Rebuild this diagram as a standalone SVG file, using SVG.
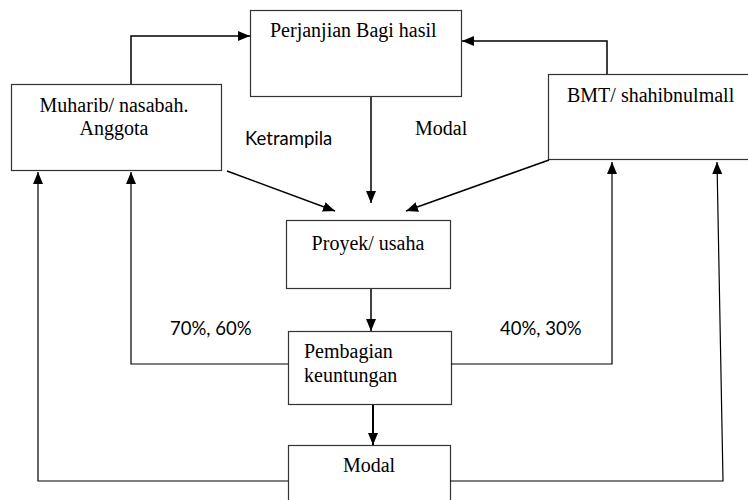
<svg xmlns="http://www.w3.org/2000/svg" width="748" height="500" viewBox="0 0 748 500">
<style>
.box{fill:#fff;stroke:#333;stroke-width:1.2}
.c{fill:none;stroke:#000;stroke-width:1.5}
.t{font-family:'Liberation Serif','Times New Roman',serif;font-size:20px;fill:#000}
.s{font-family:'Lato','Open Sans',sans-serif;font-size:18.5px;fill:#000}
</style>
<defs>
<marker id="a" viewBox="0 0 12 10" refX="12" refY="5" markerWidth="12" markerHeight="10" markerUnits="userSpaceOnUse" orient="auto">
<path d="M0,0 L12,5 L0,10 Z" fill="#000"/>
</marker>
</defs>
<rect width="748" height="500" fill="#fff"/>
<g id="perjanjian"><rect class="box" x="250.5" y="10.5" width="211" height="86"/><text class="t" x="270" y="37">Perjanjian Bagi hasil</text></g>
<g id="muharib"><rect class="box" x="11.5" y="84.5" width="210" height="86"/><text class="t" x="114" y="112" text-anchor="middle">Muharib/ nasabah.</text><text class="t" x="114" y="135" text-anchor="middle">Anggota</text></g>
<g id="bmt"><rect class="box" x="548.5" y="74.5" width="220" height="85"/><text class="t" x="567" y="102">BMT/ shahibnulmall</text></g>
<g id="proyek"><rect class="box" x="286.5" y="220.5" width="164" height="68"/><text class="t" x="368" y="250" text-anchor="middle">Proyek/ usaha</text></g>
<g id="pembagian"><rect class="box" x="288.5" y="331.5" width="163" height="73"/><text class="t" x="304" y="358">Pembagian</text><text class="t" x="304" y="382">keuntungan</text></g>
<g id="modal"><rect class="box" x="288.5" y="445.5" width="162" height="70"/><text class="t" x="369" y="472" text-anchor="middle">Modal</text></g>
<g id="connectors">
<path class="c" d="M131,84 V36 H250" marker-end="url(#a)"/>
<path class="c" d="M607,74 V41 H462" marker-end="url(#a)"/>
<path class="c" d="M371,97 V203" marker-end="url(#a)"/>
<path class="c" d="M227,171 L335,211" marker-end="url(#a)"/>
<path class="c" d="M549,160 L406,211" marker-end="url(#a)"/>
<path class="c" d="M371,289 V331" marker-end="url(#a)"/>
<path class="c" d="M373,405 V445" marker-end="url(#a)" style="stroke-width:2"/>
<path class="c" d="M288,364 H131 V172" marker-end="url(#a)" style="stroke-width:1.2"/>
<path class="c" d="M288,481 H38 V172" marker-end="url(#a)" style="stroke-width:1.2"/>
<path class="c" d="M451,364 H612 V162" marker-end="url(#a)" style="stroke-width:1.2"/>
<path class="c" d="M450,481 H723 L717,162" marker-end="url(#a)" style="stroke-width:1.2"/>
</g>
<text class="s" x="245" y="145">Ketrampila</text>
<text class="t" x="415" y="135">Modal</text>
<text class="s" x="170" y="335">70%, 60%</text>
<text class="s" x="500" y="335">40%, 30%</text>
</svg>
